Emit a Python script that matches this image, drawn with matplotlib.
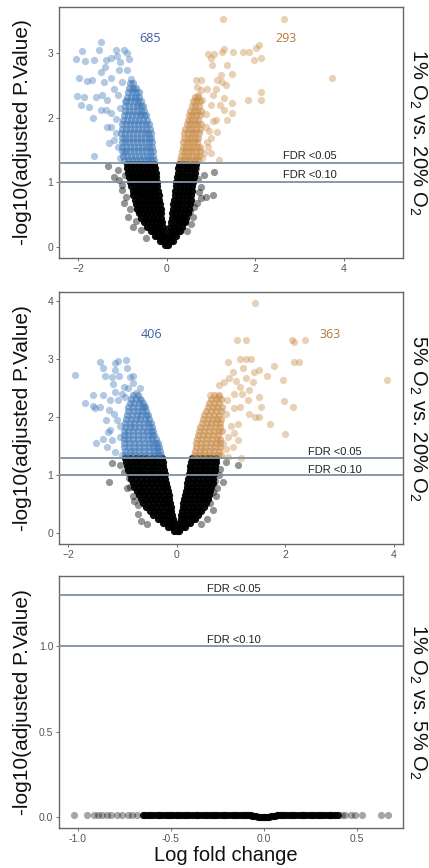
import numpy as np
import matplotlib
matplotlib.use("Agg")
import matplotlib.pyplot as plt

plt.rcParams['font.family'] = ['Liberation Sans', 'DejaVu Sans']

#%% data
fdr_lines = [1.3010, 1.0]
fdr_labels = ['FDR <0.05', 'FDR <0.10']
panel_titles = [r'1% O$_\mathregular{2}$ vs. 20% O$_\mathregular{2}$',
                r'5% O$_\mathregular{2}$ vs. 20% O$_\mathregular{2}$',
                r'1% O$_\mathregular{2}$ vs. 5% O$_\mathregular{2}$']
n_down = [685, 406]
n_up = [293, 363]

# dense core of non-significant genes, one list of x per row
core_rows_y = [0.03, 0.10, 0.17, 0.24, 0.31, 0.38, 0.45, 0.52, 0.59, 0.66,
               0.73, 0.80, 0.87, 0.94, 1.01, 1.08, 1.15, 1.22, 1.29]
black1_rows = [
    [-0.05, 0.0, 0.04],
    [-0.16, -0.09, -0.03, 0.04, 0.1, 0.14],
    [-0.27, -0.19, -0.11, -0.05, 0.05, 0.13, 0.21],
    [-0.36, -0.28, -0.2, -0.12, -0.07, 0.07, 0.15, 0.23, 0.29],
    [-0.44, -0.35, -0.26, -0.17, -0.08, 0.08, 0.17, 0.26, 0.35],
    [-0.51, -0.42, -0.33, -0.24, -0.16, -0.1, 0.1, 0.19, 0.28, 0.36, 0.41],
    [-0.57, -0.48, -0.39, -0.3, -0.21, -0.12, 0.11, 0.2, 0.28, 0.36, 0.44],
    [-0.62, -0.53, -0.44, -0.35, -0.26, -0.18, -0.12, 0.12, 0.21, 0.3, 0.39, 0.47],
    [-0.66, -0.57, -0.48, -0.39, -0.3, -0.21, -0.14, 0.14, 0.23, 0.32, 0.41, 0.5],
    [-0.69, -0.6, -0.51, -0.42, -0.33, -0.24, -0.15, 0.15, 0.24, 0.33, 0.43, 0.52],
    [-0.72, -0.63, -0.54, -0.45, -0.36, -0.27, -0.17, 0.17, 0.26, 0.35, 0.45, 0.54],
    [-0.75, -0.67, -0.59, -0.51, -0.43, -0.35, -0.27, -0.18, 0.18, 0.27, 0.37, 0.46, 0.55],
    [-0.77, -0.69, -0.61, -0.52, -0.44, -0.36, -0.28, -0.19, 0.19, 0.29, 0.38, 0.48, 0.57],
    [-0.8, -0.72, -0.63, -0.55, -0.46, -0.38, -0.29, -0.21, 0.21, 0.3, 0.4, 0.49, 0.58],
    [-0.82, -0.73, -0.65, -0.56, -0.48, -0.39, -0.31, -0.22, 0.22, 0.32, 0.41, 0.51, 0.6],
    [-0.85, -0.76, -0.67, -0.59, -0.5, -0.41, -0.32, -0.24, 0.24, 0.33, 0.43, 0.52, 0.62],
    [-0.87, -0.78, -0.69, -0.6, -0.52, -0.43, -0.34, -0.25, 0.25, 0.35, 0.44, 0.54, 0.63],
    [-0.89, -0.8, -0.71, -0.62, -0.53, -0.44, -0.35, -0.26, 0.26, 0.36, 0.45, 0.55, 0.64],
    [-0.9, -0.81, -0.72, -0.63, -0.54, -0.45, -0.37, -0.28, 0.28, 0.37, 0.46, 0.56, 0.65]]
black2_rows = [
    [-0.05, 0.0, 0.05],
    [-0.16, -0.09, -0.03, 0.04, 0.1, 0.16],
    [-0.26, -0.18, -0.11, -0.05, 0.05, 0.12, 0.19, 0.25],
    [-0.35, -0.27, -0.19, -0.12, -0.07, 0.07, 0.14, 0.21, 0.28, 0.33],
    [-0.43, -0.34, -0.25, -0.16, -0.08, 0.08, 0.16, 0.24, 0.32, 0.4],
    [-0.5, -0.41, -0.32, -0.23, -0.15, -0.1, 0.1, 0.19, 0.28, 0.37, 0.45],
    [-0.56, -0.47, -0.38, -0.29, -0.2, -0.11, 0.11, 0.2, 0.3, 0.4, 0.5],
    [-0.62, -0.53, -0.44, -0.35, -0.26, -0.18, -0.12, 0.12, 0.22, 0.32, 0.43, 0.54],
    [-0.66, -0.57, -0.48, -0.39, -0.3, -0.21, -0.14, 0.14, 0.23, 0.33, 0.42, 0.5, 0.57],
    [-0.7, -0.61, -0.52, -0.43, -0.34, -0.24, -0.15, 0.15, 0.24, 0.33, 0.42, 0.51, 0.6],
    [-0.74, -0.65, -0.56, -0.47, -0.37, -0.27, -0.17, 0.17, 0.26, 0.35, 0.44, 0.53, 0.62],
    [-0.78, -0.69, -0.6, -0.51, -0.42, -0.32, -0.25, -0.18, 0.18, 0.27, 0.36, 0.46, 0.55, 0.64],
    [-0.81, -0.72, -0.63, -0.54, -0.45, -0.36, -0.27, -0.19, 0.19, 0.29, 0.38, 0.47, 0.57, 0.66],
    [-0.84, -0.75, -0.66, -0.57, -0.48, -0.39, -0.3, -0.21, 0.21, 0.3, 0.4, 0.49, 0.58, 0.67],
    [-0.87, -0.78, -0.69, -0.6, -0.5, -0.41, -0.31, -0.22, 0.22, 0.31, 0.41, 0.5, 0.6, 0.69],
    [-0.9, -0.81, -0.71, -0.62, -0.52, -0.43, -0.33, -0.24, 0.24, 0.33, 0.42, 0.52, 0.61, 0.7],
    [-0.92, -0.83, -0.73, -0.64, -0.54, -0.44, -0.35, -0.25, 0.25, 0.34, 0.44, 0.53, 0.62, 0.71],
    [-0.94, -0.85, -0.75, -0.65, -0.55, -0.45, -0.36, -0.26, 0.26, 0.35, 0.45, 0.54, 0.63, 0.72],
    [-0.96, -0.86, -0.76, -0.66, -0.56, -0.46, -0.37, -0.28, 0.28, 0.37, 0.46, 0.55, 0.64, 0.73]]

gray1_pts = [(-1.33, 1.25), (-1.10, 1.19), (-1.20, 1.08), (-1.08, 1.04), (-1.00, 0.88),
             (-0.97, 0.68), (-0.88, 0.47), (-0.77, 0.31), (-0.59, 0.26), (-0.47, 0.14),
             (-0.95, 1.12), (-0.92, 0.78), (-0.83, 0.58), (-0.70, 0.40), (-1.02, 0.96),
             (0.65, 1.22), (0.84, 1.11), (1.06, 1.16), (0.77, 0.93), (1.04, 0.80),
             (0.88, 0.77), (0.77, 0.76), (0.61, 0.62), (0.59, 0.46), (0.70, 1.05),
             (0.72, 0.85), (0.55, 0.35), (0.45, 0.25), (0.68, 0.68), (0.52, 0.55)]
gray2_pts = [(-1.20, 1.21), (-1.24, 0.88), (-1.05, 1.17), (-0.92, 0.78), (-0.86, 0.80),
             (-0.72, 0.48), (-0.72, 0.33), (-0.65, 0.20), (-0.81, 0.63), (-0.98, 1.05),
             (-0.88, 0.95), (-0.78, 0.55), (-0.55, 0.15), (0.91, 1.23), (1.12, 1.17),
             (0.85, 0.88), (0.73, 0.63), (0.66, 0.40), (0.55, 0.25), (0.66, 0.71),
             (0.78, 1.00), (0.80, 1.10), (0.70, 0.90), (0.62, 0.52), (0.45, 0.15), (0.75, 0.78)]

# significant genes: dense core rows and scattered points
sig_rows_y = [1.34, 1.41, 1.48, 1.55, 1.62, 1.69, 1.76, 1.83, 1.90, 1.97,
              2.04, 2.11, 2.18, 2.25, 2.32, 2.39, 2.46, 2.53]
blue1_rows = [
    [-0.96, -0.87, -0.78, -0.69, -0.6, -0.51, -0.42, -0.35, -0.29],
    [-0.98, -0.89, -0.8, -0.71, -0.62, -0.53, -0.44, -0.37, -0.30],
    [-1.0, -0.91, -0.82, -0.73, -0.64, -0.55, -0.46, -0.38, -0.32],
    [-1.0, -0.91, -0.82, -0.73, -0.64, -0.55, -0.46, -0.39, -0.33],
    [-1.02, -0.93, -0.84, -0.75, -0.66, -0.57, -0.48, -0.40, -0.34],
    [-1.02, -0.93, -0.84, -0.75, -0.66, -0.57, -0.48, -0.41, -0.35],
    [-1.03, -0.94, -0.85, -0.76, -0.67, -0.58, -0.49, -0.42, -0.36],
    [-1.0, -0.91, -0.82, -0.73, -0.64, -0.55, -0.46, -0.38],
    [-1.0, -0.91, -0.82, -0.73, -0.64, -0.55, -0.47, -0.40],
    [-0.98, -0.89, -0.8, -0.71, -0.62, -0.53, -0.45],
    [-0.96, -0.87, -0.78, -0.69, -0.6, -0.52, -0.47],
    [-0.95, -0.86, -0.77, -0.68, -0.59, -0.51],
    [-0.93, -0.84, -0.75, -0.66, -0.58, -0.53],
    [-0.92, -0.83, -0.74, -0.65, -0.57],
    [-0.9, -0.81, -0.72, -0.63],
    [-0.88, -0.79, -0.7, -0.63],
    [-0.85, -0.77, -0.69],
    [-0.83, -0.75]]
blue2_rows = [
    [-0.95, -0.86, -0.77, -0.68, -0.59, -0.5, -0.41, -0.34, -0.29],
    [-0.96, -0.87, -0.78, -0.69, -0.6, -0.51, -0.42, -0.36, -0.31],
    [-0.97, -0.88, -0.79, -0.7, -0.61, -0.52, -0.43, -0.37, -0.32],
    [-0.97, -0.88, -0.79, -0.7, -0.61, -0.52, -0.44, -0.38, -0.34],
    [-0.98, -0.89, -0.8, -0.71, -0.62, -0.53, -0.45, -0.39],
    [-0.98, -0.89, -0.8, -0.71, -0.62, -0.53, -0.46, -0.41],
    [-0.98, -0.89, -0.8, -0.71, -0.62, -0.54, -0.47, -0.43],
    [-0.96, -0.87, -0.78, -0.69, -0.6, -0.52, -0.46],
    [-0.96, -0.87, -0.78, -0.69, -0.6, -0.53, -0.48],
    [-0.94, -0.85, -0.76, -0.67, -0.58, -0.51],
    [-0.92, -0.83, -0.74, -0.65, -0.57, -0.53],
    [-0.9, -0.81, -0.72, -0.64, -0.56],
    [-0.89, -0.8, -0.71, -0.63, -0.58],
    [-0.87, -0.78, -0.7, -0.62],
    [-0.85, -0.76, -0.68],
    [-0.8, -0.72],
    [],
    []]
orange1_rows = [
    [0.31, 0.39, 0.47, 0.55, 0.63, 0.71],
    [0.33, 0.41, 0.49, 0.57, 0.65, 0.73],
    [0.34, 0.42, 0.5, 0.58, 0.66, 0.74],
    [0.36, 0.44, 0.52, 0.6, 0.68, 0.76],
    [0.37, 0.45, 0.53, 0.61, 0.69],
    [0.39, 0.47, 0.55, 0.63, 0.71],
    [0.40, 0.48, 0.56, 0.64, 0.72],
    [0.42, 0.5, 0.58, 0.66, 0.74],
    [0.45, 0.53, 0.61, 0.69, 0.77],
    [0.47, 0.55, 0.63, 0.71],
    [0.5, 0.58, 0.66, 0.74],
    [0.53, 0.61, 0.69, 0.77],
    [0.56, 0.64, 0.72],
    [0.59, 0.67, 0.75],
    [0.63, 0.71],
    [],
    [],
    []]
orange2_rows = [
    [0.31, 0.4, 0.49, 0.58, 0.67, 0.76, 0.82],
    [0.33, 0.42, 0.51, 0.6, 0.69, 0.78],
    [0.35, 0.44, 0.53, 0.62, 0.71, 0.8],
    [0.36, 0.45, 0.54, 0.63, 0.72, 0.79],
    [0.38, 0.47, 0.56, 0.65, 0.74, 0.8],
    [0.4, 0.49, 0.58, 0.67, 0.76],
    [0.41, 0.5, 0.59, 0.68, 0.77, 0.83],
    [0.43, 0.52, 0.61, 0.7, 0.79],
    [0.46, 0.55, 0.64, 0.73, 0.8],
    [0.48, 0.57, 0.66, 0.75, 0.82],
    [0.51, 0.6, 0.69, 0.78],
    [0.54, 0.63, 0.72, 0.81],
    [0.57, 0.66, 0.75, 0.83],
    [0.6, 0.69, 0.78],
    [0.64, 0.73, 0.81],
    [0.68, 0.77],
    [],
    []]

blue1_pts = [(-2.05, 2.90), (-1.90, 3.03), (-1.85, 2.88), (-1.65, 2.89), (-1.49, 3.17),
             (-1.53, 3.04), (-1.38, 2.89), (-1.26, 2.92), (-1.15, 3.04), (-0.97, 3.04),
             (-1.06, 2.86), (-1.98, 2.61), (-1.79, 2.56), (-1.68, 2.58), (-1.49, 2.71),
             (-1.42, 2.55), (-1.26, 2.61), (-1.08, 2.74), (-0.89, 2.74), (-2.03, 2.33),
             (-1.87, 2.32), (-1.94, 2.19), (-1.76, 2.16), (-1.67, 2.00), (-1.60, 2.32),
             (-1.45, 2.35), (-1.49, 2.12), (-1.34, 2.27), (-1.26, 2.07), (-1.34, 1.86),
             (-1.65, 1.40), (-1.38, 2.12), (-1.26, 1.85), (-1.15, 1.76), (-1.10, 1.55),
             (-0.97, 1.47), (-1.20, 2.45), (-1.10, 2.35), (-1.00, 2.55), (-0.85, 2.90),
             (-0.80, 2.60), (-0.75, 2.45), (-1.15, 1.98), (-1.20, 1.65), (-1.05, 1.38),
             (-0.95, 2.25), (-0.70, 2.30), (-0.65, 2.20), (-1.05, 2.15), (-0.60, 2.05),
             (-1.30, 1.60), (-0.90, 3.00), (-1.12, 2.96), (-1.40, 2.78)]
blue2_pts = [(-1.88, 2.72), (-1.41, 2.95), (-1.35, 2.84), (-1.32, 2.71), (-1.14, 2.93),
             (-1.08, 2.97), (-0.94, 2.98), (-1.14, 2.81), (-1.06, 2.71), (-1.17, 2.58),
             (-0.98, 2.52), (-0.86, 2.69), (-0.80, 2.71), (-0.80, 2.59), (-0.68, 2.51),
             (-1.69, 2.24), (-1.54, 2.38), (-1.35, 2.38), (-1.50, 2.15), (-1.41, 2.17),
             (-1.23, 2.29), (-1.25, 2.12), (-1.14, 2.44), (-1.08, 2.29), (-1.26, 1.75),
             (-1.49, 1.55), (-1.29, 1.49), (-1.23, 1.78), (-1.54, 2.19), (-1.14, 1.40),
             (-1.05, 1.66), (-1.10, 1.95), (-1.15, 2.05), (-1.20, 1.60), (-1.05, 1.85),
             (-0.95, 2.35), (-0.90, 2.50), (-0.75, 2.42), (-1.00, 2.40), (-1.30, 1.95),
             (-1.35, 1.62), (-0.65, 2.30), (-0.60, 2.20), (-1.00, 1.35), (-0.92, 2.85),
             (-1.20, 2.70)]
orange1_pts = [(1.26, 3.53), (2.65, 3.53), (3.72, 2.62), (2.08, 3.12), (2.01, 3.07),
               (2.12, 2.92), (1.97, 2.89), (1.86, 3.02), (1.71, 3.02), (1.50, 3.02),
               (1.29, 3.06), (1.25, 3.02), (1.07, 2.99), (0.92, 2.99), (0.99, 2.92),
               (1.03, 2.81), (1.37, 2.81), (1.22, 2.66), (1.48, 2.68), (0.77, 2.58),
               (0.65, 2.58), (1.14, 2.58), (1.33, 2.50), (1.11, 2.45), (2.12, 2.40),
               (1.84, 2.27), (2.12, 2.27), (1.29, 2.30), (1.48, 2.22), (1.48, 2.07),
               (1.37, 1.96), (1.29, 2.12), (1.11, 1.96), (1.14, 1.78), (0.99, 1.68),
               (1.18, 1.34), (0.92, 1.55), (0.80, 2.27), (0.88, 1.86), (0.85, 1.45),
               (0.90, 1.62), (0.95, 1.80), (0.88, 2.05), (1.00, 2.20), (0.78, 2.42),
               (0.90, 2.45), (1.05, 2.35), (0.68, 2.48), (1.20, 2.20), (1.00, 1.45),
               (0.80, 1.38), (1.05, 1.95), (1.25, 2.55), (0.70, 2.35)]
orange2_pts = [(1.44, 3.97), (1.11, 3.34), (1.27, 3.34), (2.12, 3.34), (2.17, 3.30),
               (2.36, 3.34), (3.87, 2.64), (2.17, 2.95), (2.26, 2.95), (1.80, 2.88),
               (1.95, 2.64), (1.98, 2.28), (2.15, 2.18), (1.99, 1.71), (1.71, 1.89),
               (1.55, 2.18), (1.52, 2.00), (1.45, 2.00), (1.66, 2.71), (1.52, 2.81),
               (1.43, 2.78), (1.37, 3.00), (1.27, 3.00), (1.16, 3.00), (0.94, 2.95),
               (1.03, 2.78), (0.97, 2.67), (1.28, 2.67), (0.78, 2.55), (1.16, 2.52),
               (1.34, 2.47), (1.31, 2.29), (1.52, 2.35), (0.61, 2.38), (0.76, 2.35),
               (0.92, 2.30), (1.16, 2.18), (1.34, 2.06), (1.13, 1.89), (1.13, 1.60),
               (1.03, 1.49), (1.19, 1.29), (0.94, 1.32), (1.06, 1.72), (0.90, 1.45),
               (0.95, 1.65), (1.00, 1.85), (0.90, 2.05), (1.05, 2.15), (0.85, 1.55),
               (1.05, 2.40), (1.20, 2.40), (1.10, 2.62), (0.88, 2.60), (1.22, 2.85),
               (1.40, 2.60)]

# third comparison: nothing significant, all genes at about 0
flat_x = [-0.65, -0.635, -0.62, -0.61, -0.6, -0.585, -0.57, -0.56, -0.55, -0.535,
          -0.52, -0.51, -0.5, -0.485, -0.47, -0.46, -0.45, -0.435, -0.42, -0.41,
          -0.4, -0.385, -0.37, -0.36, -0.35, -0.335, -0.32, -0.31, -0.3, -0.285,
          -0.27, -0.26, -0.25, -0.235, -0.22, -0.21, -0.2, -0.185, -0.17, -0.16,
          -0.15, -0.135, -0.12, -0.11, -0.1, -0.09, -0.08,
          -0.07, -0.06, -0.05, -0.04, -0.03, -0.02, -0.01, 0.0, 0.01, 0.02, 0.03,
          0.04, 0.05, 0.06, 0.07,
          0.08, 0.09, 0.1, 0.11, 0.12, 0.135, 0.15, 0.16, 0.17, 0.185, 0.2, 0.21,
          0.22, 0.235, 0.25, 0.26, 0.27, 0.285, 0.3, 0.31, 0.32, 0.335, 0.35, 0.36,
          0.37, 0.385, 0.4]
flat_y = ([0.012] * 47
          + [0.010, 0.008, 0.006, 0.005, 0.003, 0.002, 0.001, 0.0, 0.001, 0.002, 0.003,
             0.005, 0.006, 0.008, 0.010]
          + [0.012] * 27)
flat_edge_x = [-1.02, -0.95, -0.91, -0.89, -0.87, -0.84, -0.82, -0.79, -0.76, -0.73,
               -0.71, -0.68, 0.42, 0.44, 0.47, 0.49, 0.53, 0.63, 0.67]
flat_edge_y = [0.012] * 19

xlims = [(-2.43, 5.33), (-2.17, 4.17), (-1.10, 0.75)]
ylims = [(-0.17, 3.71), (-0.19, 4.16), (-0.064, 1.41)]
xticks = [[-2, 0, 2, 4], [-2, 0, 2, 4], [-1.0, -0.5, 0.0, 0.5]]
yticks = [[0, 1, 2, 3], [0, 1, 2, 3, 4], [0.0, 0.5, 1.0]]
fdr_text_x = [3.23, 2.91, -0.16]
fdr_text_y = [[1.41, 1.11], [1.40, 1.09], [1.335, 1.035]]
count_pos = [((-0.37, 3.23), (2.70, 3.23)), ((-0.46, 3.43), (2.83, 3.43))]

#%%
def rows_to_xy(ys, rows):
    xs, yy = [], []
    for y, row in zip(ys, rows):
        xs += row
        yy += [y] * len(row)
    return np.array(xs), np.array(yy)

def pts(p):
    a = np.array(p)
    return a[:, 0], a[:, 1]

BLUE = '#4079b9'
ORANGE = '#c98c47'
S = 27

W, H = 429, 868
fig = plt.figure(figsize=(W / 100, H / 100), dpi=100)
boxes = [(7, 258), (292, 544), (576, 828)]
axes = []
for top, bot in boxes:
    ax = fig.add_axes([59 / W, 1 - bot / H, 344 / W, (bot - top) / H])
    axes.append(ax)

for i, ax in enumerate(axes):
    if i < 2:
        brows = [black1_rows, black2_rows][i]
        gx, gy = pts([gray1_pts, gray2_pts][i])
        ax.scatter(gx, gy, s=S, c='black', alpha=0.42, lw=0)
        bx, by = rows_to_xy(core_rows_y, brows)
        ax.scatter(bx, by, s=S, c='black', alpha=0.95, lw=0)
        cx, cy = rows_to_xy(sig_rows_y, [blue1_rows, blue2_rows][i])
        ax.scatter(cx, cy, s=S, c=BLUE, alpha=0.55, lw=0)
        cx, cy = pts([blue1_pts, blue2_pts][i])
        ax.scatter(cx, cy, s=S, c=BLUE, alpha=0.4, lw=0)
        ox, oy = rows_to_xy(sig_rows_y, [orange1_rows, orange2_rows][i])
        ax.scatter(ox, oy, s=S, c=ORANGE, alpha=0.55, lw=0)
        ox, oy = pts([orange1_pts, orange2_pts][i])
        ax.scatter(ox, oy, s=S, c=ORANGE, alpha=0.4, lw=0)
        (dx, dy), (ux, uy) = count_pos[i]
        ax.text(dx, dy, str(n_down[i]), color='#3d5da3', fontsize=9,
                family=['Open Sans', 'DejaVu Sans'], ha='center', va='center')
        ax.text(ux, uy, str(n_up[i]), color='#b5783a', fontsize=9,
                family=['Open Sans', 'DejaVu Sans'], ha='center', va='center')
    else:
        ax.scatter(flat_edge_x, flat_edge_y, s=S, c='black', alpha=0.35, lw=0)
        ax.scatter(flat_x, flat_y, s=S, c='black', alpha=0.9, lw=0)

    for yl, lab, ty in zip(fdr_lines, fdr_labels, fdr_text_y[i]):
        ax.axhline(yl, color='#7f91a4', lw=1.3, zorder=3)
        ax.text(fdr_text_x[i], ty, lab, fontsize=8, color='#222222',
                ha='center', va='center', zorder=4)

    ax.set_xlim(*xlims[i])
    ax.set_ylim(*ylims[i])
    ax.set_xticks(xticks[i])
    ax.set_yticks(yticks[i])
    if i == 2:
        ax.set_xticklabels(['%.1f' % v for v in xticks[i]])
        ax.set_yticklabels(['%.1f' % v for v in yticks[i]])
    ax.tick_params(labelsize=7.5, colors='#555555', length=2.5, width=0.6, pad=1.5)
    for sp in ax.spines.values():
        sp.set_color('#666666')
        sp.set_linewidth(1.0)

    yc = 1 - (boxes[i][0] + boxes[i][1]) / 2 / H
    fig.text(23 / W, yc, '-log10(adjusted P.Value)', rotation=90, fontsize=15,
             ha='center', va='center', color='#111111')
    fig.text(418 / W, yc, panel_titles[i], rotation=270, fontsize=14.5,
             ha='center', va='center', color='#111111')

fig.text(226 / W, 1 - 861 / H, 'Log fold change', fontsize=14.5,
         ha='center', va='baseline', color='#111111')

fig.savefig('out.png', dpi=100)
